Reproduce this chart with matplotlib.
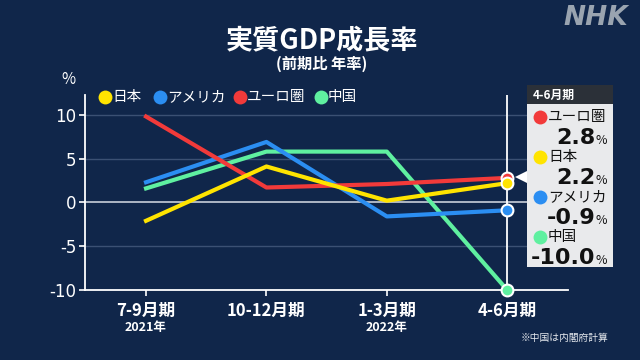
import numpy as np
import matplotlib
matplotlib.use("Agg")
import matplotlib.pyplot as plt
from matplotlib.patches import Rectangle, Polygon

plt.rcParams['font.family'] = ['Noto Sans CJK JP', 'DejaVu Sans']

# ---------------- data ----------------
quarters = ['7-9月期', '10-12月期', '1-3月期', '4-6月期']
years = ['2021年', '', '2022年', '']
names = ['日本', 'アメリカ', 'ユーロ圏', '中国']
japan = [-2.1, 4.1, 0.2, 2.2]
usa = [2.3, 6.9, -1.6, -0.9]
euro = [9.8, 1.7, 2.1, 2.8]
china = [1.6, 5.8, 5.8, -10.0]
colors = ['#ffe400', '#2b8ef2', '#f23a3a', '#5ff0a0']
yticks = [10, 5, 0, -5, -10]

series = [japan, usa, euro, china]
bg = '#10264a'

fig = plt.figure(figsize=(6.4, 3.6), dpi=100, facecolor=bg)

ax = fig.add_axes([85 / 640, 1 - 290 / 360, (568 - 85) / 640, (290 - 95) / 360])
ax.set_facecolor('none')
ax.set_zorder(1)
x = np.arange(len(quarters))
ax.set_xlim(-0.507, 3.505)
ax.set_ylim(-10.0, 12.26)

for s in ['top', 'right']:
    ax.spines[s].set_visible(False)
for s in ['left', 'bottom']:
    ax.spines[s].set_color('white')
    ax.spines[s].set_linewidth(1.3)

for v in yticks:
    if v == -10:
        continue
    if v == 0:
        ax.axhline(v, color='#d8dde6', lw=1.1, zorder=1)
    else:
        ax.axhline(v, color='#3b5073', lw=1.0, zorder=1)
ax.axvline(3, color='white', lw=1.3, zorder=1)

ax.set_yticks(yticks)
ax.set_yticklabels([str(v) for v in yticks], color='white', fontsize=12,
                   family=['DejaVu Sans'])
ax.set_xticks(x)
ax.set_xticklabels([])
ax.tick_params(axis='both', colors='white', length=4, width=1.2)
ax.tick_params(axis='y', pad=2)

order = [3, 1, 2, 0]
for i in order:
    ax.plot(x, series[i], color=colors[i], lw=3.0, zorder=3 + order.index(i))
for i in order:
    ax.plot(x[-1], series[i][-1], 'o', ms=8.5, color=colors[i], mec='white',
            mew=1.5, zorder=10, clip_on=False)

# overlay for decorations in pixel coords (drawn above the chart)
deco = fig.add_axes([0, 0, 1, 1])
deco.set_zorder(2)
deco.set_xlim(0, 640)
deco.set_ylim(360, 0)
deco.axis('off')

# x labels
for xi, q, yr in zip(x, quarters, years):
    px = 146 + xi * 120.4
    deco.text(px, 311, q, color='white', fontsize=12, ha='center', va='center',
              fontweight='bold')
    if yr:
        deco.text(px, 327, yr, color='white', fontsize=9, ha='center',
                  va='center', fontweight='bold')

# title
deco.text(322, 40, '実質GDP成長率', color='white', fontsize=19.5, ha='center',
          va='center', fontweight='bold')
deco.text(322, 64, '(前期比 年率)', color='white', fontsize=11, ha='center',
          va='center', fontweight='bold')
deco.text(68, 79, '%', color='white', fontsize=11, ha='center', va='center')
deco.text(596, 18, 'NHK', color='#9aa4b0', fontsize=19, ha='center',
          va='center', fontweight='bold', style='italic', family=['DejaVu Sans'])
deco.text(608, 338, '※中国は内閣府計算', color='#e6e9ee', fontsize=7,
          ha='right', va='center')

# legend
lx = [105, 160, 240, 321]
for px, name, c in zip(lx, names, colors):
    deco.plot(px, 97, 'o', ms=10, color=c, mec='none')
    deco.text(px + 7, 97, name, color='white', fontsize=10.5, ha='left',
              va='center')

# tooltip box
deco.add_patch(Rectangle((527, 85), 86, 182, facecolor='#e9eaec',
                         edgecolor='none', zorder=5))
deco.add_patch(Rectangle((527, 85), 86, 19, facecolor='#2b3038',
                         edgecolor='none', zorder=6))
deco.add_patch(Polygon([[515, 177], [527, 171], [527, 183]], closed=True,
                       facecolor='white', edgecolor='none', zorder=6))
deco.text(533, 95, quarters[-1], color='white', fontsize=8.5, ha='left',
          va='center', fontweight='bold', zorder=7)
last = [s[-1] for s in series]
rank = sorted(range(len(series)), key=lambda k: -last[k])
for j, k in enumerate(rank):
    y0 = 117 + j * 40
    deco.plot(540, y0, 'o', ms=10, color=colors[k], mec='none', zorder=7)
    deco.text(548, y0, names[k], color='#111111', fontsize=10.5, ha='left',
              va='center', zorder=7)
    deco.text(595, y0 + 21, f'{last[k]:.1f}', color='#111111', fontsize=16,
              ha='right', va='center', fontweight='bold', zorder=7,
              family=['DejaVu Sans'])
    deco.text(596, y0 + 23, '%', color='#111111', fontsize=9, ha='left',
              va='center', zorder=7)

fig.savefig('out.png', dpi=100, facecolor=bg)
